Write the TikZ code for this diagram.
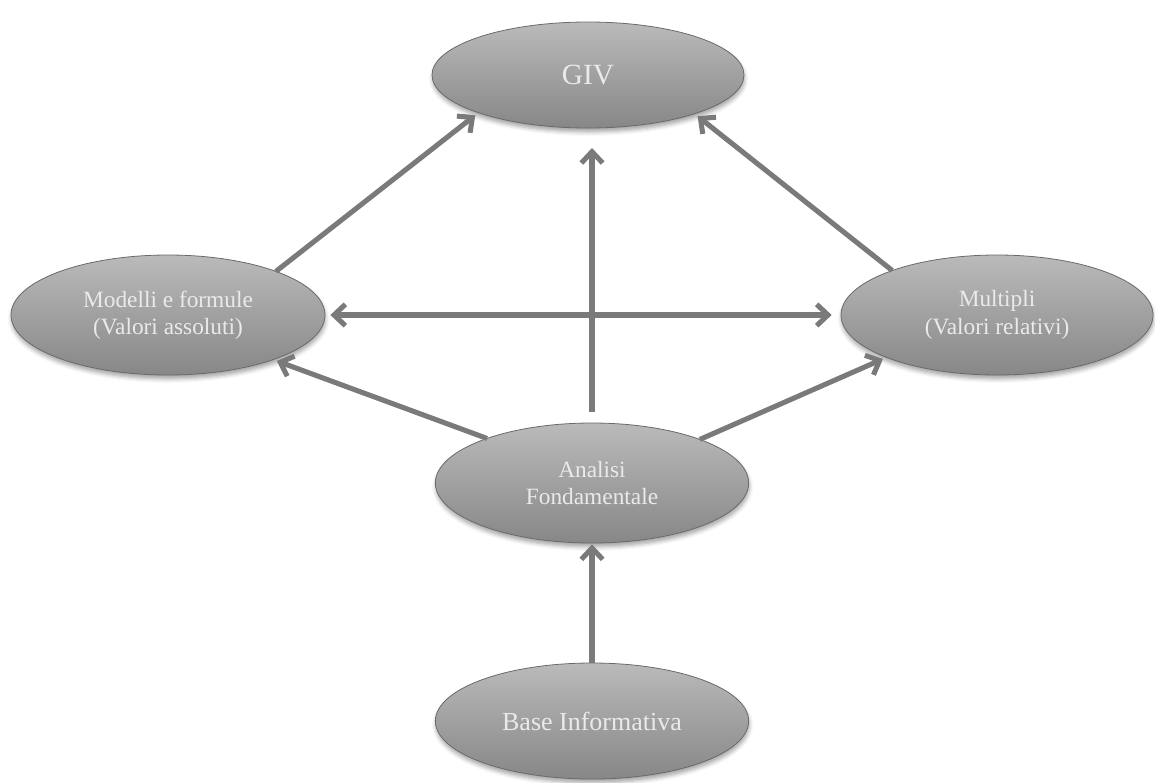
\documentclass[tikz,border=0pt]{standalone}
\usepackage{fontspec}
\setmainfont{Liberation Serif}
\usetikzlibrary{shapes.geometric,arrows.meta,shadows.blur}
\definecolor{topgray}{HTML}{BABABA}
\definecolor{botgray}{HTML}{878787}
\definecolor{edgegray}{HTML}{6A6A6A}
\definecolor{txtgray}{HTML}{EAEAEA}
\definecolor{arrgray}{HTML}{7A7A7A}
\tikzset{
  oval/.style={ellipse, draw=edgegray, line width=0.6pt, top color=topgray, bottom color=botgray,
    inner sep=0pt, outer sep=0pt, align=center, text=txtgray,
    blur shadow={shadow xshift=0.5pt, shadow yshift=-3pt, shadow blur radius=3pt, shadow opacity=35}},
  midtext/.style={font=\fontsize{17.5}{20.5}\selectfont},
  conn/.style={draw=arrgray, line width=3.8pt, -{Straight Barb[length=8.5pt,width=16pt]}},
  dconn/.style={draw=arrgray, line width=3.8pt, {Straight Barb[length=8.5pt,width=16pt]}-{Straight Barb[length=8.5pt,width=16pt]}}
}
\begin{document}
\begin{tikzpicture}[x=0.75pt,y=-0.75pt]
\useasboundingbox (0,0) rectangle (1155,782);
\node[oval, minimum width=234pt, minimum height=79.5pt, font=\fontsize{22}{26}\selectfont] (giv) at (588,75) {GIV};
\node[oval, midtext, minimum width=235.5pt, minimum height=90pt] (mod) at (168,315) {Modelli e formule\\(Valori assoluti)};
\node[oval, midtext, minimum width=234pt, minimum height=90pt] (mul) at (997,315) {Multipli\\(Valori relativi)};
\node[oval, midtext, minimum width=235pt, minimum height=90pt] (ana) at (592,483) {Analisi\\Fondamentale};
\node[oval, minimum width=235pt, minimum height=87pt, font=\fontsize{19.5}{23}\selectfont] (base) at (592,721) {Base Informativa};
\draw[conn, shorten >=3pt] (mod.22) -- (giv.199);
\draw[conn, shorten >=3pt] (mul.157.6) -- (giv.340.5);
\draw[conn, shorten <=8pt, shorten >=15pt] (ana.north) -- (giv.south -| ana.north);
\draw[dconn, shorten <=4pt, shorten >=7pt] (mod.east) -- (mul.west);
\draw[conn, shorten >=3pt] (ana.157.7) -- (mod.337.8);
\draw[conn, shorten >=3pt] (ana.22.2) -- (mul.201.9);
\draw[conn, shorten >=1pt] (base.north) -- (ana.south);
\end{tikzpicture}
\end{document}
